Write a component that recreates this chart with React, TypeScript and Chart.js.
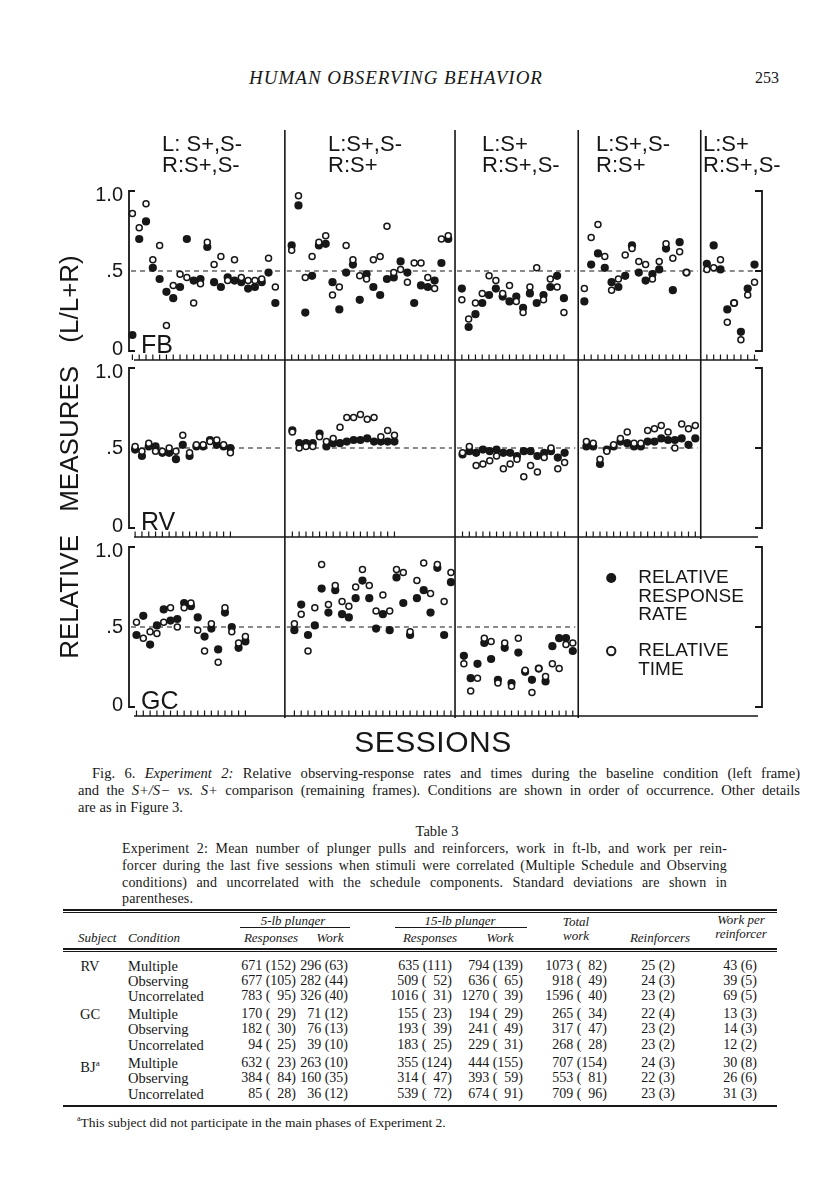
import React, { useEffect, useRef } from "react";
import { Chart, registerables } from "chart.js";

Chart.register(...registerables);

// ---------------- figure data ----------------
const conditionLeft = ["L: S+,S-", "L:S+,S-", "L:S+", "L:S+,S-", "L:S+"];
const conditionRight = ["R:S+,S-", "R:S+", "R:S+,S-", "R:S+", "R:S+,S-"];
const subjects = ["FB", "RV", "GC"];
const yTickValues = [1, 0.5, 0];
const yTickLabels = ["1.0", ".5", "0"];
const legendRateLines = ["RELATIVE", "RESPONSE", "RATE"];
const legendTimeLines = ["RELATIVE", "TIME"];

// relative response rate (filled) and relative time (open), one list per condition frame
const fbRate = [
  [0.10, 0.70, 0.81, 0.52, 0.45, 0.37, 0.33, 0.40, 0.70, 0.44, 0.45, 0.65, 0.43, 0.40, 0.46, 0.44, 0.43, 0.39, 0.40, 0.43, 0.49, 0.30],
  [0.66, 0.91, 0.24, 0.47, 0.66, 0.67, 0.43, 0.26, 0.49, 0.54, 0.32, 0.48, 0.40, 0.35, 0.45, 0.46, 0.56, 0.49, 0.30, 0.41, 0.40, 0.44, 0.55, 0.70],
  [0.39, 0.15, 0.23, 0.30, 0.35, 0.39, 0.34, 0.31, 0.34, 0.27, 0.36, 0.30, 0.35, 0.40, 0.47, 0.33],
  [0.31, 0.54, 0.61, 0.52, 0.43, 0.40, 0.47, 0.66, 0.49, 0.44, 0.48, 0.51, 0.64, 0.38, 0.68, 0.49],
  [0.545, 0.66, 0.51, 0.26, 0.30, 0.12, 0.39, 0.54],
];
const fbTime = [
  [0.86, 0.77, 0.92, 0.57, 0.66, 0.16, 0.41, 0.48, 0.46, 0.30, 0.42, 0.68, 0.54, 0.59, 0.44, 0.57, 0.46, 0.44, 0.44, 0.45, 0.58, 0.40],
  [0.63, 0.97, 0.46, 0.59, 0.68, 0.72, 0.35, 0.40, 0.66, 0.57, 0.47, 0.45, 0.57, 0.59, 0.78, 0.49, 0.51, 0.43, 0.55, 0.55, 0.46, 0.39, 0.70, 0.72],
  [0.32, 0.20, 0.30, 0.36, 0.47, 0.44, 0.36, 0.41, 0.31, 0.24, 0.40, 0.52, 0.32, 0.45, 0.40, 0.24],
  [0.39, 0.71, 0.79, 0.59, 0.38, 0.45, 0.60, 0.64, 0.56, 0.54, 0.45, 0.56, 0.67, 0.58, 0.62, 0.49],
  [0.51, 0.52, 0.57, 0.18, 0.30, 0.07, 0.35, 0.43],
];
const rvRate = [
  [0.49, 0.45, 0.51, 0.51, 0.47, 0.47, 0.43, 0.52, 0.45, 0.51, 0.51, 0.55, 0.52, 0.51, 0.50],
  [0.61, 0.53, 0.53, 0.53, 0.59, 0.51, 0.53, 0.53, 0.54, 0.55, 0.55, 0.56, 0.54, 0.54, 0.54, 0.54],
  [0.46, 0.48, 0.47, 0.49, 0.48, 0.49, 0.47, 0.47, 0.45, 0.48, 0.48, 0.45, 0.47, 0.48, 0.44, 0.47],
  [0.51, 0.51, 0.40, 0.49, 0.51, 0.54, 0.53, 0.51, 0.51, 0.54, 0.54, 0.56, 0.55, 0.55, 0.56, 0.52, 0.56],
  [],
];
const rvTime = [
  [0.51, 0.48, 0.53, 0.48, 0.48, 0.50, 0.48, 0.58, 0.47, 0.52, 0.52, 0.54, 0.55, 0.52, 0.47],
  [0.60, 0.50, 0.51, 0.51, 0.57, 0.54, 0.56, 0.63, 0.69, 0.69, 0.71, 0.68, 0.69, 0.57, 0.61, 0.58],
  [0.47, 0.51, 0.39, 0.40, 0.42, 0.45, 0.37, 0.40, 0.43, 0.32, 0.39, 0.35, 0.44, 0.50, 0.37, 0.41],
  [0.54, 0.53, 0.43, 0.48, 0.52, 0.56, 0.60, 0.53, 0.53, 0.61, 0.62, 0.64, 0.60, 0.50, 0.65, 0.62, 0.64],
  [],
];
const gcRate = [
  [0.45, 0.57, 0.39, 0.51, 0.61, 0.54, 0.55, 0.65, 0.63, 0.56, 0.44, 0.49, 0.36, 0.59, 0.50, 0.37, 0.41],
  [0.48, 0.64, 0.45, 0.51, 0.74, 0.59, 0.73, 0.58, 0.56, 0.68, 0.79, 0.68, 0.49, 0.58, 0.48, 0.81, 0.65, 0.45, 0.68, 0.73, 0.59, 0.87, 0.45, 0.78],
  [0.32, 0.18, 0.27, 0.40, 0.30, 0.17, 0.37, 0.15, 0.34, 0.22, 0.17, 0.24, 0.16, 0.38, 0.43, 0.43, 0.35],
  [],
  [],
];
const gcTime = [
  [0.53, 0.43, 0.47, 0.46, 0.53, 0.62, 0.50, 0.62, 0.65, 0.48, 0.35, 0.52, 0.28, 0.62, 0.47, 0.40, 0.44],
  [0.52, 0.58, 0.35, 0.62, 0.89, 0.64, 0.76, 0.66, 0.63, 0.75, 0.86, 0.76, 0.60, 0.70, 0.60, 0.86, 0.84, 0.47, 0.79, 0.90, 0.71, 0.89, 0.66, 0.84],
  [0.27, 0.10, 0.18, 0.43, 0.41, 0.15, 0.40, 0.13, 0.43, 0.23, 0.09, 0.24, 0.19, 0.27, 0.24, 0.39, 0.40],
  [],
  [],
];

// ---------------- table data ----------------
const tableSubjects = ["RV", "GC", "BJ"];
const tableConditions = ["Multiple", "Observing", "Uncorrelated"];
const resp5Mean = [671, 677, 783, 170, 182, 94, 632, 384, 85];
const resp5Sd = [152, 105, 95, 29, 30, 25, 23, 84, 28];
const work5Mean = [296, 282, 326, 71, 76, 39, 263, 160, 36];
const work5Sd = [63, 44, 40, 12, 13, 10, 10, 35, 12];
const resp15Mean = [635, 509, 1016, 155, 193, 183, 355, 314, 539];
const resp15Sd = [111, 52, 31, 23, 39, 25, 124, 47, 72];
const work15Mean = [794, 636, 1270, 194, 241, 229, 444, 393, 674];
const work15Sd = [139, 65, 39, 29, 49, 31, 155, 59, 91];
const totalMean = [1073, 918, 1596, 265, 317, 268, 707, 553, 709];
const totalSd = [82, 49, 40, 34, 47, 28, 154, 81, 96];
const reinfMean = [25, 24, 23, 22, 23, 23, 24, 22, 23];
const reinfSd = [2, 3, 2, 4, 2, 2, 3, 3, 3];
const wprMean = [43, 39, 69, 13, 14, 12, 30, 26, 31];
const wprSd = [6, 5, 5, 3, 3, 2, 8, 6, 3];

// ---------------- layout ----------------
const INK = "#171717";
const PAGE_W = 816;
const CANVAS_TOP = 100;
const CANVAS_H = 630;
const PLOT_LEFT = 129;
const PLOT_RIGHT = 762;
const ROW_TOP = [191, 368, 547];
const ROW_H = 160;
const X_MIN = 0;
const X_MAX = 93;
const PANEL_EDGES = [0, 22.9, 47.9, 66, 84, 93];
// how many rows (from the top) each divider runs through
const DIVIDER_ROWS = [3, 3, 3, 2];
// offset of the first session inside each frame, per subject row
const FIRST_SESSION = [
  [0.5, 1, 1, 0.9, 0.9],
  [0.9, 1.1, 1.1, 1.2, 1],
  [1.1, 1.4, 1.3, 1, 1],
];
const HEADER_X = [162, 328, 482, 596, 703];
const DIVIDER_TOP = 130;
const SANS = '"Liberation Sans", Arial, sans-serif';
const SERIF = '"Liberation Serif", "Times New Roman", serif';

const AREA_TOP = ROW_TOP[0] - CANVAS_TOP;
const AREA_BOTTOM = ROW_TOP[2] + ROW_H - CANVAS_TOP;

const rowSpec = [
  { name: subjects[0], axis: "yFB", rate: fbRate, time: fbTime },
  { name: subjects[1], axis: "yRV", rate: rvRate, time: rvTime },
  { name: subjects[2], axis: "yGC", rate: gcRate, time: gcTime },
];

function sessionX(r: number, p: number, i: number) {
  return PANEL_EDGES[p] + FIRST_SESSION[r][p] + i;
}

function toPoints(r: number, panels: number[][]) {
  const pts: { x: number; y: number }[] = [];
  panels.forEach((vals, p) => vals.forEach((v, i) => pts.push({ x: sessionX(r, p, i), y: v })));
  return pts;
}

const decorPlugin = {
  id: "decor",
  beforeDatasetsDraw(chart: any) {
    const ctx = chart.ctx;
    const xs = chart.scales.x;
    const left = xs.getPixelForValue(X_MIN);
    const right = xs.getPixelForValue(X_MAX);
    ctx.save();
    ctx.strokeStyle = INK;
    ctx.fillStyle = INK;
    const bases: number[] = [];
    rowSpec.forEach((row, r) => {
      const ys = chart.scales[row.axis];
      const y1 = ys.getPixelForValue(1);
      const y0 = ys.getPixelForValue(0);
      const yh = ys.getPixelForValue(0.5);
      const yb = y0 + 9;
      bases.push(yb);
      ctx.setLineDash([]);
      ctx.lineWidth = 1.8;
      // left bracket
      ctx.beginPath();
      ctx.moveTo(left + 6, y1);
      ctx.lineTo(left, y1);
      ctx.lineTo(left, y0);
      ctx.lineTo(left + 6, y0);
      ctx.stroke();
      // right bracket
      ctx.beginPath();
      ctx.moveTo(right - 7, y1);
      ctx.lineTo(right, y1);
      ctx.lineTo(right, y0);
      ctx.lineTo(right - 7, y0);
      ctx.moveTo(right - 7, yh);
      ctx.lineTo(right, yh);
      ctx.stroke();
      // baseline
      ctx.lineWidth = 1.6;
      ctx.beginPath();
      ctx.moveTo(left + 5, yb);
      ctx.lineTo(right - 4, yb);
      ctx.stroke();
      // session ticks and 0.5 reference line per frame with data
      row.rate.forEach((vals: number[], p: number) => {
        if (!vals.length) return;
        ctx.setLineDash([]);
        ctx.lineWidth = 1.2;
        ctx.beginPath();
        vals.forEach((_v: number, i: number) => {
          const x = xs.getPixelForValue(sessionX(r, p, i));
          ctx.moveTo(x, yb);
          ctx.lineTo(x, yb - 5.5);
        });
        ctx.stroke();
        ctx.setLineDash([5, 4]);
        ctx.lineWidth = 1.2;
        ctx.beginPath();
        ctx.moveTo(xs.getPixelForValue(PANEL_EDGES[p]) + 2, yh);
        ctx.lineTo(xs.getPixelForValue(PANEL_EDGES[p + 1]) - 3, yh);
        ctx.stroke();
      });
    });
    // frame dividers
    ctx.setLineDash([]);
    ctx.lineWidth = 1.6;
    ctx.beginPath();
    for (let p = 1; p < PANEL_EDGES.length - 1; p++) {
      const x = xs.getPixelForValue(PANEL_EDGES[p]);
      ctx.moveTo(x, DIVIDER_TOP - CANVAS_TOP);
      ctx.lineTo(x, bases[DIVIDER_ROWS[p - 1] - 1] + 2);
    }
    ctx.stroke();
    ctx.restore();
  },
  afterDraw(chart: any) {
    const ctx = chart.ctx;
    const xs = chart.scales.x;
    const left = xs.getPixelForValue(X_MIN);
    ctx.save();
    ctx.fillStyle = INK;
    ctx.strokeStyle = INK;
    // condition headers
    ctx.font = `22px ${SANS}`;
    ctx.textAlign = "left";
    ctx.textBaseline = "middle";
    conditionLeft.forEach((t, p) => {
      ctx.fillText(t, HEADER_X[p], 145 - CANVAS_TOP);
      ctx.fillText(conditionRight[p], HEADER_X[p], 166 - CANVAS_TOP);
    });
    rowSpec.forEach((row) => {
      const ys = chart.scales[row.axis];
      ctx.font = `20px ${SANS}`;
      ctx.textAlign = "right";
      ctx.textBaseline = "middle";
      const nudge = [4, 0, -2];
      yTickValues.forEach((v, j) => {
        ctx.fillText(yTickLabels[j], left - 6, ys.getPixelForValue(v) + nudge[j]);
      });
      ctx.font = `25px ${SANS}`;
      ctx.textAlign = "left";
      ctx.textBaseline = "alphabetic";
      ctx.fillText(row.name, left + 12, ys.getPixelForValue(0) + 2);
    });
    // legend in the GC row
    const g = chart.scales[rowSpec[2].axis];
    const gTop = g.getPixelForValue(1);
    const mx = xs.getPixelForValue(PANEL_EDGES[3]) + 33;
    const tx = mx + 27;
    ctx.beginPath();
    ctx.arc(mx, gTop + 31, 5, 0, Math.PI * 2);
    ctx.fill();
    ctx.beginPath();
    ctx.lineWidth = 2;
    ctx.arc(mx, gTop + 104, 4.2, 0, Math.PI * 2);
    ctx.stroke();
    ctx.font = `19px ${SANS}`;
    ctx.textAlign = "left";
    ctx.textBaseline = "middle";
    legendRateLines.forEach((t, i) => ctx.fillText(t, tx, gTop + 31 + i * 18.5));
    legendTimeLines.forEach((t, i) => ctx.fillText(t, tx, gTop + 104 + i * 18.5));
    ctx.restore();
  },
};

function fmt(mean: number, sd: number, sdWidth: number) {
  const s = String(sd);
  return `${mean} (${"\u2007".repeat(Math.max(0, sdWidth - s.length))}${s})`;
}

type TxtProps = {
  x: number;
  y: number;
  align?: "left" | "right" | "center";
  size?: number;
  italic?: boolean;
  family?: string;
  children: React.ReactNode;
  extra?: React.CSSProperties;
};

function Txt({ x, y, align = "left", size = 14, italic, family = SERIF, children, extra }: TxtProps) {
  const lh = Math.round(size * 1.3);
  const base: React.CSSProperties = {
    position: "absolute",
    top: y - lh / 2,
    lineHeight: `${lh}px`,
    fontSize: size,
    fontFamily: family,
    fontStyle: italic ? "italic" : "normal",
    whiteSpace: "pre",
    color: INK,
  };
  if (align === "left") base.left = x;
  if (align === "right") base.right = PAGE_W - x;
  if (align === "center") {
    base.left = x - 200;
    base.width = 400;
    base.textAlign = "center";
  }
  return <div style={{ ...base, ...extra }}>{children}</div>;
}

function JLine({ left, width, y, size, spacing = 0, children, last }: { left: number; width: number; y: number; size: number; spacing?: number; children: React.ReactNode; last?: boolean }) {
  const lh = 17;
  return (
    <div
      style={{
        position: "absolute",
        left,
        width,
        top: y - lh / 2,
        lineHeight: `${lh}px`,
        fontSize: size,
        fontFamily: SERIF,
        letterSpacing: `${spacing}px`,
        color: INK,
        textAlign: last ? "left" : "justify",
        textAlignLast: last ? "left" : "justify",
        whiteSpace: "nowrap",
      } as React.CSSProperties}
    >
      {children}
    </div>
  );
}

const TABLE_ROW_Y = [966, 981, 996, 1014, 1029, 1045, 1063, 1078, 1094];
const TABLE_COL_RIGHT = [296, 348, 452, 523, 607, 675, 757];

function Rule({ y, x1, x2, h }: { y: number; x1: number; x2: number; h: number }) {
  return <div style={{ position: "absolute", left: x1, top: y, width: x2 - x1, height: h, background: INK }} />;
}

export default function App() {
  const canvasRef = useRef<HTMLCanvasElement>(null);

  useEffect(() => {
    const canvas = canvasRef.current;
    if (!canvas) return;
    const scales: any = {
      x: { type: "linear", min: X_MIN, max: X_MAX, display: false },
    };
    rowSpec.forEach((r, k) => {
      const p1 = ROW_TOP[k] - CANVAS_TOP;
      const p0 = p1 + ROW_H;
      scales[r.axis] = {
        type: "linear",
        display: false,
        min: -(AREA_BOTTOM - p0) / ROW_H,
        max: 1 + (p1 - AREA_TOP) / ROW_H,
      };
    });
    const datasets: any[] = [];
    rowSpec.forEach((r, k) => {
      datasets.push({
        label: `${r.name} relative response rate`,
        data: toPoints(k, r.rate),
        yAxisID: r.axis,
        xAxisID: "x",
        pointStyle: "circle",
        pointRadius: 4.1,
        backgroundColor: INK,
        borderColor: INK,
        borderWidth: 0,
        showLine: false,
        clip: false,
        order: 2,
      });
      datasets.push({
        label: `${r.name} relative time`,
        data: toPoints(k, r.time),
        yAxisID: r.axis,
        xAxisID: "x",
        pointStyle: "circle",
        pointRadius: 3.0,
        backgroundColor: "#ffffff",
        borderColor: INK,
        borderWidth: 1.5,
        showLine: false,
        clip: false,
        order: 1,
      });
    });
    const chart = new Chart(canvas, {
      type: "scatter",
      data: { datasets },
      options: {
        responsive: false,
        animation: false,
        devicePixelRatio: 1,
        events: [],
        layout: {
          padding: {
            left: PLOT_LEFT,
            right: PAGE_W - PLOT_RIGHT,
            top: AREA_TOP,
            bottom: CANVAS_H - AREA_BOTTOM,
          },
        },
        plugins: { legend: { display: false }, tooltip: { enabled: false }, title: { display: false } },
        scales,
      } as any,
      plugins: [decorPlugin as any],
    });
    return () => chart.destroy();
  }, []);

  const sdW = [3, 2, 3, 3, 3, 1, 1];
  const cols = [
    [resp5Mean, resp5Sd],
    [work5Mean, work5Sd],
    [resp15Mean, resp15Sd],
    [work15Mean, work15Sd],
    [totalMean, totalSd],
    [reinfMean, reinfSd],
    [wprMean, wprSd],
  ];
  const TS = 14;

  return (
    <div style={{ position: "absolute", left: 0, top: 0, width: PAGE_W, height: 1200, background: "#fff", overflow: "hidden" }}>
      <Txt x={396} y={77} align="center" size={19} italic extra={{ letterSpacing: "1px" }}>
        HUMAN OBSERVING BEHAVIOR
      </Txt>
      <Txt x={779} y={77} align="right" size={16}>
        253
      </Txt>

      <canvas
        ref={canvasRef}
        width={PAGE_W}
        height={CANVAS_H}
        style={{ position: "absolute", left: 0, top: CANVAS_TOP, width: PAGE_W, height: CANVAS_H }}
      />

      <div
        style={{
          position: "absolute",
          left: 69 - 220,
          top: 457 - 16,
          width: 440,
          height: 32,
          lineHeight: "32px",
          textAlign: "center",
          fontFamily: SANS,
          fontSize: 26,
          wordSpacing: "16px",
          color: INK,
          transform: "rotate(-90deg)",
          transformOrigin: "50% 50%",
          whiteSpace: "nowrap",
        }}
      >
        RELATIVE MEASURES (L/L+R)
      </div>
      <Txt x={433} y={741} align="center" size={30} family={SANS} extra={{ letterSpacing: "0.5px" }}>
        SESSIONS
      </Txt>

      <JLine left={92} width={708} y={773} size={14.6}>
        Fig. 6. <i>Experiment 2:</i> Relative observing-response rates and times during the baseline condition (left frame)
      </JLine>
      <JLine left={78} width={722} y={790} size={14.6}>
        and the <i>S+/S−</i> <i>vs.</i> <i>S+</i> comparison (remaining frames). Conditions are shown in order of occurrence. Other details
      </JLine>
      <JLine left={78} width={722} y={807} size={14.6} last>
        are as in Figure 3.
      </JLine>

      <Txt x={437} y={831} align="center" size={14.5}>
        Table 3
      </Txt>
      <JLine left={122} width={605} y={848} size={14} spacing={0.2}>
        Experiment 2: Mean number of plunger pulls and reinforcers, work in ft-lb, and work per rein-
      </JLine>
      <JLine left={122} width={605} y={865} size={14} spacing={0.2}>
        forcer during the last five sessions when stimuli were correlated (Multiple Schedule and Observing
      </JLine>
      <JLine left={122} width={605} y={882} size={14} spacing={0.2}>
        conditions) and uncorrelated with the schedule components. Standard deviations are shown in
      </JLine>
      <JLine left={122} width={605} y={898} size={14} spacing={0.2} last>
        parentheses.
      </JLine>

      <Rule y={909} x1={63} x2={777} h={1.6} />
      <Rule y={912} x1={63} x2={777} h={0.8} />
      <Txt x={293} y={920} align="center" size={13} italic>5-lb plunger</Txt>
      <Rule y={927} x1={240} x2={350} h={1} />
      <Txt x={460} y={920} align="center" size={13} italic>15-lb plunger</Txt>
      <Rule y={927} x1={395} x2={527} h={1} />
      <Txt x={576} y={921} align="center" size={13} italic>Total</Txt>
      <Txt x={576} y={935} align="center" size={13} italic>work</Txt>
      <Txt x={741} y={919} align="center" size={13} italic>Work per</Txt>
      <Txt x={741} y={933} align="center" size={13} italic>reinforcer</Txt>
      <Txt x={78} y={937} size={13} italic>Subject</Txt>
      <Txt x={128} y={937} size={13} italic>Condition</Txt>
      <Txt x={271} y={937} align="center" size={13} italic>Responses</Txt>
      <Txt x={330} y={937} align="center" size={13} italic>Work</Txt>
      <Txt x={430} y={937} align="center" size={13} italic>Responses</Txt>
      <Txt x={500} y={937} align="center" size={13} italic>Work</Txt>
      <Txt x={660} y={937} align="center" size={13} italic>Reinforcers</Txt>
      <Rule y={948} x1={63} x2={777} h={1.6} />
      <Rule y={951} x1={63} x2={777} h={0.8} />

      {tableSubjects.map((s, g) => (
        <Txt key={s} x={90} y={TABLE_ROW_Y[g * 3]} align="center" size={14.5}>
          {s}
          {s === "BJ" ? <sup style={{ fontSize: 9 }}>a</sup> : null}
        </Txt>
      ))}
      {TABLE_ROW_Y.map((y, k) => (
        <React.Fragment key={k}>
          <Txt x={128} y={y} size={14.5}>{tableConditions[k % 3]}</Txt>
          {cols.map(([m, s], c) => (
            <Txt key={c} x={TABLE_COL_RIGHT[c]} y={y} align="right" size={TS}>
              {fmt(m[k], s[k], sdW[c])}
            </Txt>
          ))}
        </React.Fragment>
      ))}
      <Rule y={1105} x1={63} x2={777} h={1.8} />
      <Txt x={77} y={1119} size={13.5}>
        <sup style={{ fontSize: 8 }}>a</sup>This subject did not participate in the main phases of Experiment 2.
      </Txt>
    </div>
  );
}
